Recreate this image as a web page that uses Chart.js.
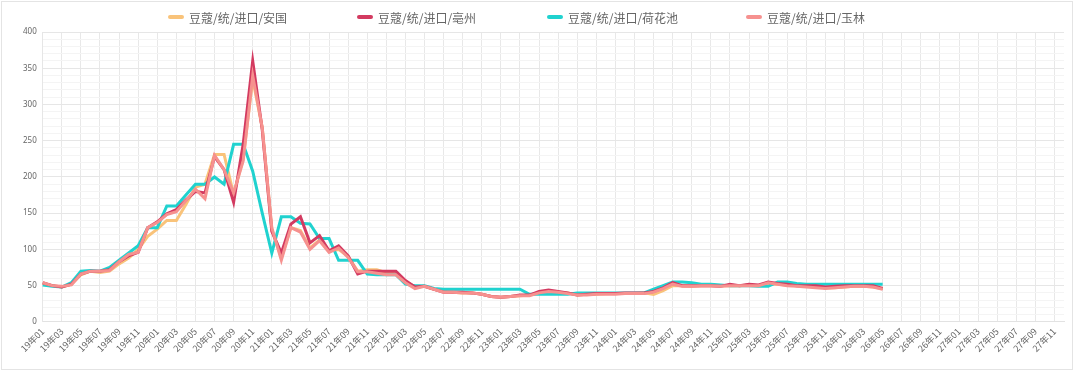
<!DOCTYPE html>
<html>
<head>
<meta charset="utf-8">
<script src="https://cdn.jsdelivr.net/npm/chart.js@4/dist/chart.umd.min.js"></script>
<style>
  body { margin: 0; background: #fff; }
  #wrap { position: relative; width: 1080px; height: 374px; }
  #card { position: absolute; left: 1px; top: 1px; width: 1070px; height: 367px; border: 1px solid #e4e4e4; pointer-events: none; }
</style>
</head>
<body>
<div id="wrap">
  <canvas id="chart" width="1080" height="374"></canvas>
  <div id="card"></div>
</div>
<script>
// --- x categories: 19年01 .. 27年12 ---
const years = ["19", "20", "21", "22", "23", "24", "25", "26", "27"];
const months = ["01", "02", "03", "04", "05", "06", "07", "08", "09", "10", "11", "12"];
const labels = [];
years.forEach(y => months.forEach(m => labels.push(y + "年" + m)));

const seriesNames = ["豆蔻/统/进口/安国", "豆蔻/统/进口/亳州", "豆蔻/统/进口/荷花池", "豆蔻/统/进口/玉林"];

// --- series (19年01 .. 26年05) ---
const anguo = [53, 50, 48, 52, 65, 70, 68, 70, 80, 88, 100, 118,
  128, 140, 140, 162, 186, 190, 231, 231, 176, 225, 335, 268,
  128, 88, 130, 126, 102, 113, 98, 100, 90, 70, 72, 72,
  68, 66, 56, 48, 49, 45, 42, 41, 40, 40, 38, 35,
  34, 35, 36, 37, 40, 42, 41, 40, 37, 38, 38, 39,
  39, 39, 39, 40, 38, 43, 50, 50, 49, 50, 50, 50,
  50, 50, 51, 50, 53, 52, 51, 50, 49, 48, 47, 47,
  48, 49, 49, 48, 46];

const bozhou = [54, 50, 48, 52, 66, 70, 70, 72, 83, 91, 96, 130,
  138, 149, 155, 168, 180, 178, 228, 210, 165, 245, 360, 265,
  125, 95, 135, 145, 109, 119, 98, 105, 91, 66, 70, 70,
  70, 70, 57, 48, 49, 45, 41, 41, 41, 40, 38, 35,
  34, 35, 37, 37, 42, 44, 42, 40, 37, 38, 39, 39,
  39, 40, 40, 40, 42, 47, 54, 50, 50, 50, 50, 49,
  52, 50, 52, 51, 55, 53, 52, 50, 50, 50, 48, 49,
  50, 50, 50, 50, 46];

const hehuachi = [51, 49, 48, 54, 70, 71, 70, 75, 85, 95, 105, 130,
  130, 160, 160, 175, 190, 190, 200, 190, 245, 245, 208, 150,
  95, 145, 145, 136, 135, 115, 115, 85, 85, 85, 66, 65,
  65, 65, 52, 50, 50, 46, 45, 45, 45, 45, 45, 45,
  45, 45, 45, 38, 38, 38, 38, 38, 40, 40, 40, 40,
  40, 40, 40, 40, 45, 50, 55, 55, 54, 52, 52, 51,
  50, 50, 50, 49, 49, 55, 55, 53, 52, 52, 52, 52,
  52, 52, 52, 52, 52];

const yulin = [54, 50, 49, 51, 66, 70, 70, 71, 83, 93, 96, 130,
  137, 148, 152, 167, 183, 170, 230, 210, 178, 222, 340, 268,
  130, 85, 130, 124, 100, 112, 96, 102, 89, 69, 69, 67,
  65, 65, 54, 46, 49, 45, 41, 41, 40, 40, 38, 35,
  34, 35, 36, 36, 40, 42, 41, 39, 37, 37, 38, 38,
  38, 39, 39, 39, 41, 46, 52, 49, 49, 50, 50, 49,
  50, 50, 50, 50, 54, 52, 50, 49, 48, 47, 46, 47,
  48, 49, 49, 48, 45];

const colors = ["#f9c37a", "#d33a60", "#20d2cf", "#f6918f"];

// --- legend drawn on the canvas, spread like the original ---
const legendSlots = [168, 357, 547, 746];
const wideLegend = {
  id: "wideLegend",
  afterDraw(chart) {
    const ctx = chart.ctx;
    const y = 17;
    ctx.save();
    ctx.font = "12px 'Noto Sans CJK SC', sans-serif";
    ctx.textBaseline = "middle";
    chart.data.datasets.forEach((ds, i) => {
      const x = legendSlots[i];
      ctx.strokeStyle = ds.borderColor;
      ctx.lineWidth = 4;
      ctx.lineCap = "round";
      ctx.beginPath();
      ctx.moveTo(x + 2, y);
      ctx.lineTo(x + 14, y);
      ctx.stroke();
      ctx.fillStyle = "#666";
      ctx.fillText(ds.label, x + 21, y + 1);
    });
    ctx.restore();
  }
};

const drawOrder = [3, 1, 2, 0];
const seriesData = [anguo, bozhou, hehuachi, yulin];

new Chart(document.getElementById("chart"), {
  type: "line",
  data: {
    labels: labels,
    datasets: seriesNames.map((name, i) => ({
      label: name,
      data: seriesData[i],
      borderColor: colors[i],
      backgroundColor: colors[i],
      borderWidth: 3,
      pointRadius: 0,
      tension: 0,
      order: drawOrder[i]
    }))
  },
  options: {
    responsive: false,
    devicePixelRatio: 1,
    animation: false,
    layout: { padding: { top: 32, right: 16, left: 17, bottom: 16 } },
    plugins: {
      legend: { display: false },
      tooltip: { enabled: false }
    },
    scales: {
      x: {
        grid: {
          color: c => (c.index % 2 === 0 ? "#e8e8e8" : "transparent"),
          drawTicks: false
        },
        border: { color: "#e2e2e2" },
        ticks: {
          autoSkip: false,
          minRotation: 45,
          maxRotation: 45,
          padding: 4,
          color: "#666",
          font: { size: 9, family: "'Noto Sans CJK SC', sans-serif" },
          callback: (v, i) => (i % 2 === 0 ? labels[i] : "")
        }
      },
      y: {
        min: 0,
        max: 400,
        grid: {
          color: c => (c.tick.value % 50 === 0 ? "#e6e6e6" : "#f4f4f4"),
          drawTicks: false
        },
        border: { color: "#e6e6e6" },
        ticks: {
          stepSize: 10,
          autoSkip: false,
          padding: 6,
          color: "#666",
          font: { size: 8, family: "'Noto Sans', sans-serif" },
          callback: v => (v % 50 === 0 ? v : "")
        }
      }
    }
  },
  plugins: [wideLegend]
});
</script>
</body>
</html>
